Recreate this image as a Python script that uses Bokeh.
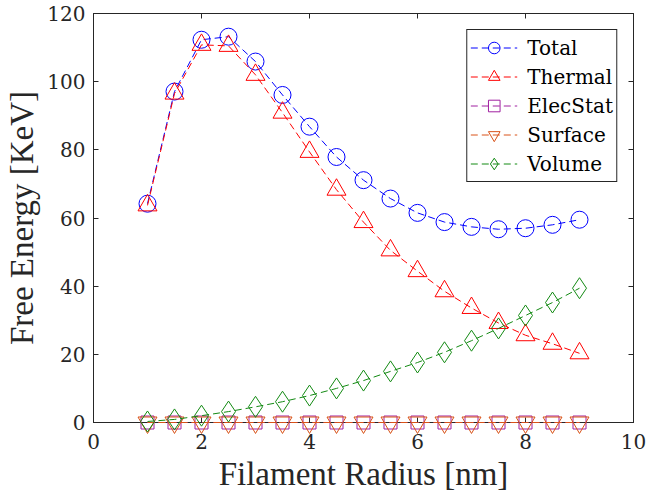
from bokeh.plotting import figure
from bokeh.models import Range1d, LinearAxis, FixedTicker, Legend, LegendItem
from bokeh.embed import file_html
from bokeh.resources import INLINE

# ---- data ----
radius = [1.0, 1.5, 2.0, 2.5, 3.0, 3.5, 4.0, 4.5, 5.0, 5.5, 6.0, 6.5, 7.0, 7.5, 8.0, 8.5, 9.0]
total = [64.2, 97.1, 112.3, 113.2, 105.9, 96.1, 86.8, 77.9, 71.1, 65.7, 61.5, 58.8, 57.4, 56.7, 57.0, 58.0, 59.5]
thermal = [63.7, 96.5, 110.8, 110.5, 102.0, 90.9, 79.4, 68.3, 58.8, 50.5, 44.4, 38.5, 33.6, 29.2, 25.6, 23.1, 20.3]
elecstat = [0.0, 0.0, 0.0, 0.0, 0.0, 0.0, 0.0, 0.0, 0.0, 0.0, 0.0, 0.0, 0.0, 0.0, 0.0, 0.0, 0.0]
surface = [0.0, 0.0, 0.0, 0.0, 0.0, 0.0, 0.0, 0.0, 0.0, 0.0, 0.0, 0.0, 0.0, 0.0, 0.0, 0.0, 0.0]
volume = [0.3, 0.9, 2.0, 3.2, 4.6, 6.1, 7.9, 10.0, 12.3, 15.0, 17.6, 20.6, 24.0, 27.6, 31.4, 35.2, 39.4]

series_names = ["Total", "Thermal", "ElecStat", "Surface", "Volume"]
x_ticks = [0, 2, 4, 6, 8, 10]
y_ticks = [0, 20, 40, 60, 80, 100, 120]

LABEL_FONT = "serif"
TICK_FONT = "DejaVu Serif"
AX = "#262626"

p = figure(width=648, height=498, output_backend="svg", toolbar_location=None,
           x_range=Range1d(0, 10), y_range=Range1d(0, 120),
           min_border_left=93, min_border_right=15, min_border_top=13, min_border_bottom=76)
p.xgrid.visible = False
p.ygrid.visible = False
p.outline_line_color = AX
p.outline_line_alpha = 1.0
p.background_fill_color = "white"
p.border_fill_color = "white"


def style_axis(ax, ticks, labels=True):
    ax.ticker = FixedTicker(ticks=ticks)
    ax.axis_line_color = AX
    ax.major_tick_line_color = AX
    ax.major_tick_in = 5
    ax.major_tick_out = 0
    ax.minor_tick_line_color = None
    ax.major_label_text_font = TICK_FONT
    ax.major_label_text_color = AX
    if labels:
        ax.major_label_text_font_size = "20px"
    else:
        ax.major_label_text_font_size = "1px"
        ax.major_label_text_alpha = 0
        ax.major_label_standoff = 0


style_axis(p.xaxis[0], x_ticks)
style_axis(p.yaxis[0], y_ticks)
p.xaxis[0].major_label_standoff = 11
p.yaxis[0].major_label_standoff = 8
p.xaxis.axis_label = "Filament Radius [nm]"
p.yaxis.axis_label = "Free Energy [KeV]"
for ax in (p.xaxis[0], p.yaxis[0]):
    ax.axis_label_text_font = LABEL_FONT
    ax.axis_label_text_font_size = "33px"
    ax.axis_label_text_font_style = "normal"
    ax.axis_label_text_color = AX
    ax.axis_label_standoff = 4

top_ax = LinearAxis()
style_axis(top_ax, x_ticks, labels=False)
p.add_layout(top_ax, "above")
right_ax = LinearAxis()
style_axis(right_ax, y_ticks, labels=False)
p.add_layout(right_ax, "right")

data = [total, thermal, elecstat, surface, volume]
colors = ["#0000ff", "#ff0000", "#a020a0", "#d95319", "#138a13"]
markers = ["circle", "triangle", "square", "inverted_triangle", "diamond"]
sizes = [17, 19, 13, 19, 21]

items = []
for name, ys, c, m, s in zip(series_names, data, colors, markers, sizes):
    ln = p.line(radius, ys, line_color=c, line_width=1, line_dash="7 4", level="overlay")
    sc = p.scatter(radius, ys, marker=m, size=s, line_color=c, line_width=1, fill_color=None,
                   level="overlay")
    items.append(LegendItem(label=name, renderers=[ln, sc]))

legend = Legend(items=items, location="top_right",
                label_text_font=TICK_FONT, label_text_font_size="20px", label_text_color="black",
                glyph_width=47, glyph_height=29, label_height=29, spacing=0, padding=3,
                label_standoff=10, margin=16, border_line_color=AX, border_line_width=1,
                border_line_alpha=1, background_fill_color="white", background_fill_alpha=1)
p.add_layout(legend)

open("out.html", "w").write(file_html(p, INLINE))
